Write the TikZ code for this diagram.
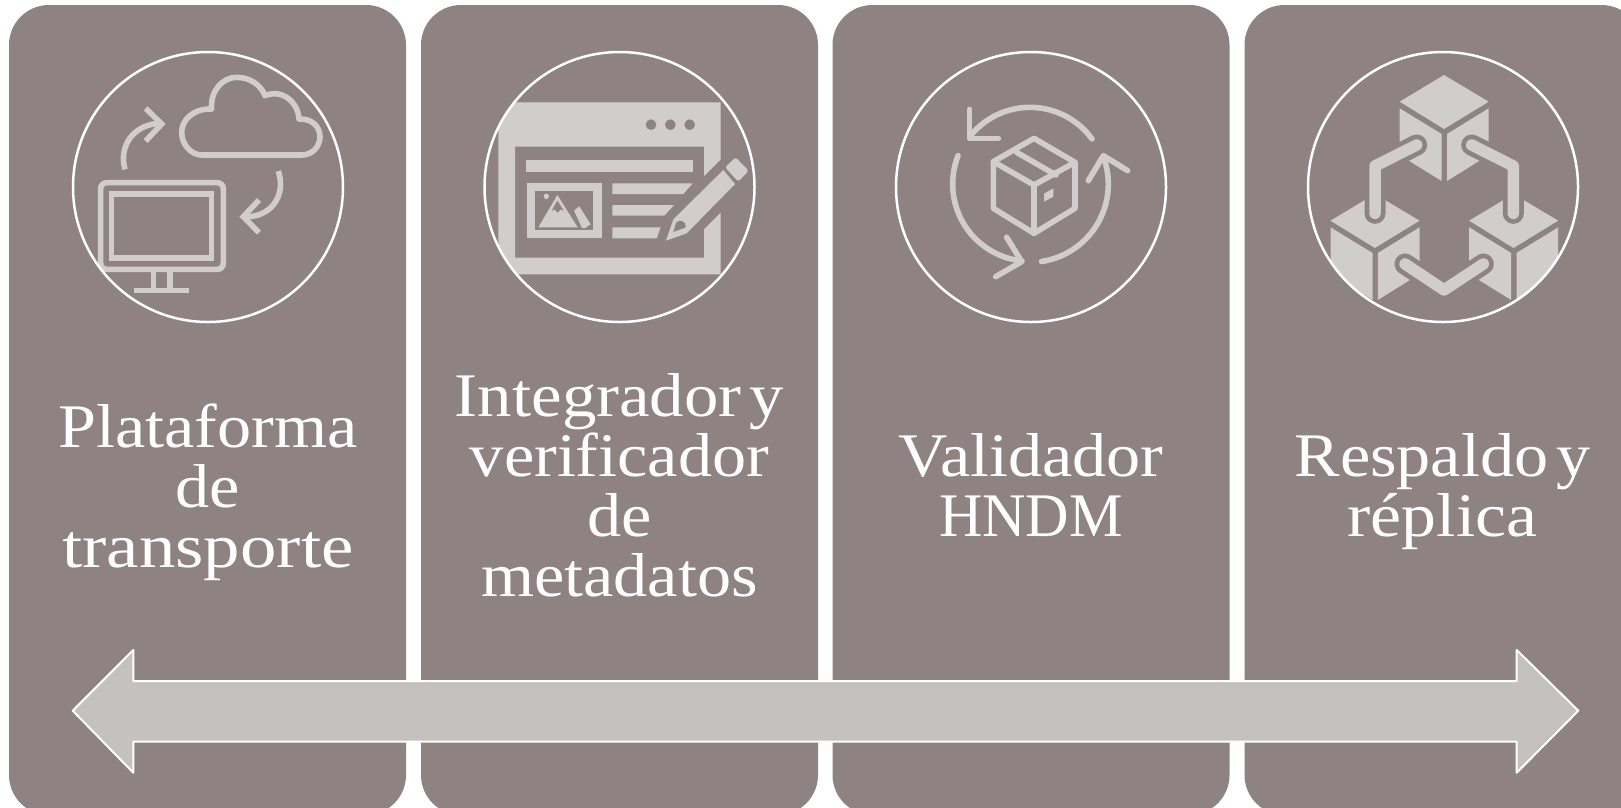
\documentclass[tikz,border=0pt]{standalone}
\usepackage{fontspec}
\setmainfont{Liberation Serif}[FakeStretch=1.1]
\definecolor{panelc}{HTML}{8F8282}
\definecolor{iconc}{HTML}{D1CDCC}
\definecolor{arrowc}{HTML}{C5C1BF}
\newcommand{\stw}[2]{{\addfontfeatures{FakeStretch=#1}#2}}
\tikzset{
  panel/.style={rectangle,fill=panelc,rounded corners=40pt,minimum width=397pt,minimum height=810pt,inner sep=0pt},
  ring/.style={circle,draw=white,line width=2.5pt,minimum size=270pt,inner sep=0pt},
  label/.style={text=white,align=center,inner sep=0pt,anchor=north,font=\fontsize{62pt}{60pt}\selectfont},
  iconscope/.style={x=0.33333pt,y=-0.33333pt},
  iconline/.style={draw=iconc,line width=5.6pt},
  iconround/.style={iconline,line cap=round,line join=round},
  iconfill/.style={fill=iconc,draw=none},
  gap/.style={fill=panelc,draw=none},
  halo/.style={draw=panelc,line width=21pt,line cap=round,line join=round},
  link/.style={draw=iconc,line width=11.5pt,line cap=round,line join=round}
}
\newcommand{\cubeat}[2]{%
  \fill[iconc,shift={(#1,#2)}] (0,-80) -- (134,0) -- (0,82) -- (-133,0) -- cycle;
  \fill[iconc,shift={(#1,#2)}] (-133,20) -- (-7,97) -- (-7,238) -- (-133,160) -- cycle;
  \fill[iconc,shift={(#1,#2)}] (9,97) -- (134,20) -- (134,160) -- (9,238) -- cycle;
}
\begin{document}
\begin{tikzpicture}[x=1pt,y=-1pt]
\useasboundingbox (0,0) rectangle (1621,807);
\fill[white] (0,0) rectangle (1621,807);
\begin{scope}
\clip (0,0) rectangle (1621,807);
\node[panel] (p1) at (207.5,410) {};
\node[panel] (p2) at (619.5,410) {};
\node[panel] (p3) at (1031,410) {};
\node[panel] (p4) at (1443,410) {};
\end{scope}

% icon 1
\begin{scope}[shift={(60pt,-40pt)},iconscope]
\draw[iconline,line join=round] (425,345) -- (725,345)
  .. controls (757,345) and (780,320) .. (780,290)
  .. controls (780,260) and (755,235) .. (717,237)
  .. controls (715,190) and (670,145) .. (615,167)
  .. controls (600,130) and (565,112) .. (530,112)
  .. controls (490,112) and (450,150) .. (455,207)
  .. controls (400,205) and (365,240) .. (365,277)
  .. controls (365,315) and (395,345) .. (425,345) -- cycle;
\draw[iconline] (195,388) .. controls (175,320) and (220,250) .. (305,250);
\draw[iconline] (257,205) -- (305,252) -- (257,303);
\draw[iconline] (655,393) .. controls (680,470) and (630,535) .. (550,530);
\draw[iconline] (597,480) -- (550,530) -- (597,578);
\draw[iconline,rounded corners=6pt] (122,428) rectangle (490,688);
\draw[iconline] (155,462) rectangle (455,654);
\draw[iconline] (280,688) -- (280,752) (330,688) -- (330,752);
\draw[iconline] (222,752) -- (388,752);
\end{scope}

% icon 2
\begin{scope}[shift={(470pt,-40pt)},iconscope]
\begin{scope}
\clip (449,440) circle[radius=405];
\fill[iconc] (85,187) -- (752,187) -- (752,358) -- (702,408) -- (702,320) -- (135,320) -- (135,653) -- (702,653) -- (702,568) -- (752,518) -- (752,703) -- (85,703) -- cycle;
\fill[panelc] (543,254) circle[radius=16] (601,254) circle[radius=16] (659,254) circle[radius=16];
\fill[iconc] (168,360) rectangle (668,395);
\fill[iconc] (170,430) rectangle (395,595);
\fill[panelc] (195,454) rectangle (370,570);
\fill[iconc] (205,562) -- (262,465) -- (323,562) -- cycle;
\fill[panelc] (262,482) -- (245,512) -- (254,508) -- (263,518) -- (272,508) -- (282,512) -- cycle;
\fill[iconc] (229,469) circle[radius=8];
\fill[iconc] (312,512) -- (328,499) -- (362,553) -- (345,564) -- (336,564) -- cycle;
\fill[iconc] (427,430) -- (668,430) -- (640,462) -- (427,462) -- cycle;
\fill[iconc] (427,495) -- (612,495) -- (583,527) -- (427,527) -- cycle;
\fill[iconc] (427,562) -- (572,562) -- (560,595) -- (427,595) -- cycle;
\fill[iconc] (588,602) -- (610,538) -- (760,390) -- (795,432) -- (650,580) -- cycle;
\fill[panelc] (610,576) -- (618,548) .. controls (630,535) and (650,545) .. (647,562) -- cycle;
\fill[iconc,rounded corners=2.5pt] (765,382) -- (797,352) -- (836,392) -- (805,425) -- cycle;
\end{scope}
\end{scope}

% icon 3
\begin{scope}[shift={(880pt,-40pt)},iconscope]
\draw[iconround] plot[domain=36:140,samples=30] ({450+230*cos(\x)},{432-230*sin(\x)});
\draw[iconround] (268,208) -- (268,295) -- (355,295);
\draw[iconround] plot[domain=158.5:264,samples=30] ({450+232*cos(\x)},{432-232*sin(\x)});
\draw[iconround] (380,592) -- (425,665) -- (347,710);
\draw[iconround] plot[domain=20:-81.5,samples=30] ({450+235*cos(\x)},{432-235*sin(\x)});
\draw[iconround] (625,422) -- (670,347) -- (743,392);
\draw[iconround] (462,295) -- (585,367) -- (585,505) -- (462,580) -- (340,505) -- (340,365) -- cycle;
\draw[iconround] (340,365) -- (462,435) -- (585,367) (462,435) -- (462,580);
\draw[iconround] (410,337) -- (528,405);
\fill[iconc] (492,461) -- (520,445) -- (520,470) -- (492,485) -- cycle;
\end{scope}

% icon 4
\begin{scope}[shift={(1300pt,-40pt)},iconscope]
\begin{scope}
\clip (428.5,440) circle[radius=405];
\cubeat{432}{185}
\cubeat{224.5}{542}
\cubeat{640.5}{542}
\draw[halo] (350,315) -- (225,378) -- (225,520);
\draw[halo] (515,315) -- (640,378) -- (640,520);
\draw[halo] (315,672) -- (432,750) -- (550,672);
\draw[link] (350,315) -- (225,378) -- (225,520);
\draw[link] (515,315) -- (640,378) -- (640,520);
\draw[link] (315,672) -- (432,750) -- (550,672);
\end{scope}
\end{scope}

\node[ring] (c1) at (208,187) {};
\node[ring] (c2) at (619.5,187) {};
\node[ring] (c3) at (1031,187) {};
\node[ring] (c4) at (1443,187) {};

\node[label] (t1) at (208,403.5) {Plataforma\\de\\\stw{1.175}{transporte}};
\node[label] (t2) at (619.5,373.5) {\stw{1.11}{Integrador}\hspace{8pt}\stw{1.11}{y}\\verificador\\de\\metadatos};
\node[label] (t3) at (1031,433.5) {Validador\\\stw{0.97}{HNDM}};
\node[label] (t4) at (1442.5,433.5) {Respaldo\hspace{8pt}y\\\stw{1.125}{réplica}};

\draw[fill=arrowc,draw=white,line width=2pt,line join=round]
  (72.7,710.7) -- (133.3,650) -- (133.3,681) -- (1516.7,681) -- (1516.7,650) -- (1578.3,710.7)
  -- (1516.7,772.7) -- (1516.7,741.7) -- (133.3,741.7) -- (133.3,772.7) -- cycle;
\end{tikzpicture}
\end{document}
